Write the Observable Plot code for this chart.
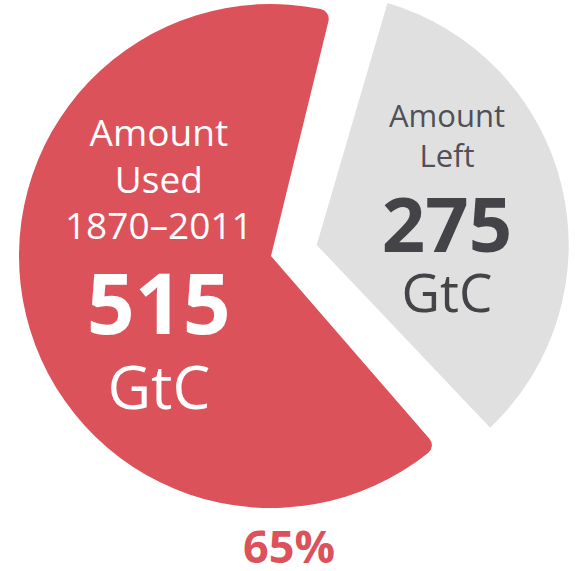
<!DOCTYPE html>
<html>
<head>
<meta charset="utf-8">
<script src="https://cdn.jsdelivr.net/npm/d3@7"></script>
<script src="https://cdn.jsdelivr.net/npm/@observablehq/plot@0.6"></script>
<style>
  html, body { margin: 0; padding: 0; background: #ffffff; }
  #chart svg { display: block; }
</style>
</head>
<body>
<div id="chart"></div>
<script>
// ---- data ----
const categories = ["Amount Used", "Amount Left"];
const values = [515, 275];
const headings = [["Amount", "Used", "1870–2011"], ["Amount", "Left"]];
const unit = "GtC";

// ---- styles / layout ----
const sliceColors = ["#dc525b", "#e0e0e0"];
const headingColors = ["#ffffff", "#505055"];
const numberColors = ["#ffffff", "#444448"];
const W = 577, H = 571;
const CX = 271, CY = 256, R = 252;          // pie centre and radius (px)
const explode = [0, 47];                     // px offset along bisector
const padAngles = [0, 0.09];
const cornerRadii = [10, 0];
const labelRadius = [0.46, 0.53];            // fraction of radius
const headingSize = [37, 31];
const headingOffsets = [[-138, -91, -45], [-86.6, -46.6]];
const numberSize = [84, 76];
const numberOffset = [50, 38.4];
const unitSize = [60, 53];
const unitOffset = [125, 98];
const FONT = "'Open Sans', 'Noto Sans', sans-serif";

const total = d3.sum(values);
const midRed = 256.4 * Math.PI / 180;
const start = midRed - (values[0] / total) * Math.PI;

const table = categories.map((c, i) => ({category: c, value: values[i], i}));
const slices = d3.pie().sort(null).value(d => d.value)
  .startAngle(start).endAngle(start + 2 * Math.PI)(table);

slices.forEach(s => {
  const i = s.data.i;
  const mid = (s.startAngle + s.endAngle) / 2;
  s.mid = mid;
  s.ox = explode[i] * Math.sin(mid) / R;     // offset in data units (x right)
  s.oy = explode[i] * Math.cos(mid) / R;     // data units (y up)
  s.lx = s.ox + labelRadius[i] * Math.sin(mid);
  s.ly = s.oy + labelRadius[i] * Math.cos(mid);
});

// label rows
const regularRows = [];
const boldRows = [];
slices.forEach(s => {
  const i = s.data.i;
  headings[i].forEach((t, k) => regularRows.push({
    text: t, x: s.lx, y: s.ly - headingOffsets[i][k] / R, size: headingSize[i], color: headingColors[i]
  }));
  regularRows.push({text: unit, x: s.lx, y: s.ly - unitOffset[i] / R, size: unitSize[i], color: numberColors[i]});
  boldRows.push({text: String(s.data.value), x: s.lx, y: s.ly - numberOffset[i] / R, size: numberSize[i], color: numberColors[i]});
});

const pieMark = (index, scales, vals, dims) => {
  const r = scales.x(1) - scales.x(0);
  const g = d3.create("svg:g");
  for (const s of slices) {
    const i = s.data.i;
    const arc = d3.arc().innerRadius(0).outerRadius(r)
      .cornerRadius(cornerRadii[i]).padAngle(padAngles[i]);
    g.append("path")
      .attr("d", arc(s))
      .attr("fill", sliceColors[i])
      .attr("transform", `translate(${scales.x(s.ox)},${scales.y(s.oy)})`);
  }
  return g.node();
};

const share = `${Math.round(values[0] / total * 100)}%`;

const chart = Plot.plot({
  width: W,
  height: H,
  margin: 0,
  x: {domain: [-1, 1], range: [CX - R, CX + R], axis: null},
  y: {domain: [-1, 1], range: [CY + R, CY - R], axis: null},
  color: {type: "identity"},
  style: {fontFamily: FONT, background: "#ffffff", overflow: "visible"},
  marks: [
    pieMark,
    Plot.text(regularRows, {x: "x", y: "y", text: "text", fontSize: "size", fill: "color",
      textAnchor: "middle", lineAnchor: "bottom", fontWeight: 400}),
    Plot.text(boldRows, {x: "x", y: "y", text: "text", fontSize: "size", fill: "color",
      textAnchor: "middle", lineAnchor: "bottom", fontWeight: 700}),
    Plot.text([share], {frameAnchor: "bottom", text: d => d, dy: -9, lineAnchor: "bottom",
      fontSize: 45, fontWeight: 700, fill: sliceColors[0]})
  ]
});
document.getElementById("chart").appendChild(chart);
</script>
</body>
</html>
